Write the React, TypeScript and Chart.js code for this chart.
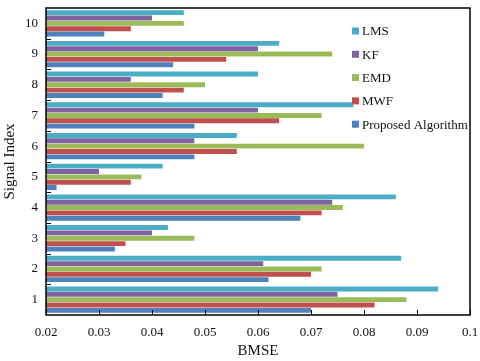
import React, { useEffect, useRef } from "react";
import { Chart, registerables } from "chart.js";

Chart.register(...registerables);

const categories = ["1", "2", "3", "4", "5", "6", "7", "8", "9", "10"];
const lmsValues = [0.094, 0.087, 0.043, 0.086, 0.042, 0.056, 0.078, 0.06, 0.064, 0.046];
const kfValues = [0.075, 0.061, 0.04, 0.074, 0.03, 0.048, 0.06, 0.036, 0.06, 0.04];
const emdValues = [0.088, 0.072, 0.048, 0.076, 0.038, 0.08, 0.072, 0.05, 0.074, 0.046];
const mwfValues = [0.082, 0.07, 0.035, 0.072, 0.036, 0.056, 0.064, 0.046, 0.054, 0.036];
const proposedValues = [0.07, 0.062, 0.033, 0.068, 0.022, 0.048, 0.048, 0.042, 0.044, 0.031];
const seriesNames = ["LMS", "KF", "EMD", "MWF", "Proposed Algorithm"];
const seriesColors = ["#4BACC6", "#8064A2", "#9BBB59", "#C0504D", "#4F81BD"];
const xMin = 0.02;
const xMax = 0.1;
const xStep = 0.01;

const FONT = "'Liberation Serif', 'Times New Roman', serif";

const framePlugin = {
  id: "frame",
  afterDatasetsDraw(chart: any) {
    const { ctx, chartArea } = chart;
    const { left, right, top, bottom } = chartArea;
    const xs = chart.scales.x;
    const ys = chart.scales.y;
    ctx.save();
    ctx.strokeStyle = "#000";
    ctx.lineWidth = 1;
    xs.ticks.forEach((_t: any, i: number) => {
      const px = Math.round(xs.getPixelForTick(i)) + 0.5;
      ctx.beginPath();
      ctx.moveTo(px, bottom);
      ctx.lineTo(px, bottom - 5);
      ctx.stroke();
    });
    for (let i = 0; i < categories.length - 1; i++) {
      const py = Math.round((ys.getPixelForValue(i) + ys.getPixelForValue(i + 1)) / 2) + 0.5;
      ctx.beginPath();
      ctx.moveTo(left, py);
      ctx.lineTo(left + 5, py);
      ctx.stroke();
    }
    ctx.lineWidth = 1.5;
    ctx.strokeRect(left, top, right - left, bottom - top);
    ctx.restore();
  },
};

const legendPlugin = {
  id: "customLegend",
  afterDraw(chart: any) {
    const { ctx } = chart;
    ctx.save();
    ctx.font = `13px ${FONT}`;
    ctx.textBaseline = "middle";
    ctx.textAlign = "left";
    chart.data.datasets.forEach((ds: any, i: number) => {
      const cy = 31 + i * 23.3;
      ctx.fillStyle = ds.backgroundColor;
      ctx.fillRect(352, cy - 3.5, 7, 7);
      ctx.fillStyle = "#111";
      ctx.fillText(ds.label, 362, cy + 1);
    });
    ctx.restore();
  },
};

export default function App() {
  const ref = useRef<HTMLCanvasElement | null>(null);
  useEffect(() => {
    if (!ref.current) return;
    const valueSets = [lmsValues, kfValues, emdValues, mwfValues, proposedValues];
    const chart = new Chart(ref.current, {
      type: "bar",
      data: {
        labels: categories,
        datasets: valueSets.map((vals, i) => ({
          label: seriesNames[i],
          data: vals,
          backgroundColor: seriesColors[i],
          borderWidth: 0,
          categoryPercentage: 0.87,
          barPercentage: 0.92,
        })),
      },
      options: {
        indexAxis: "y",
        responsive: false,
        animation: false,
        layout: { padding: { top: 8, right: 10, left: 0, bottom: 0 } },
        plugins: {
          legend: { display: false },
          tooltip: { enabled: false },
        },
        scales: {
          x: {
            type: "linear",
            min: xMin,
            max: xMax,
            grid: { display: false, drawTicks: false },
            border: { display: false },
            ticks: {
              stepSize: xStep,
              padding: 10,
              color: "#111",
              font: { family: FONT, size: 13 },
              callback: (v: any) => String(Number(Number(v).toFixed(2))),
            },
            title: {
              display: true,
              text: "BMSE",
              color: "#111",
              font: { family: FONT, size: 15 },
              padding: { top: 0, bottom: 1 },
            },
            afterFit: (s: any) => {
              s.height = 46;
              s.paddingLeft = 0;
              s.paddingRight = 0;
            },
          },
          y: {
            type: "category",
            reverse: true,
            grid: { display: false, drawTicks: false },
            border: { display: false },
            ticks: {
              padding: 8,
              color: "#111",
              font: { family: FONT, size: 13 },
            },
            title: {
              display: true,
              text: "Signal Index",
              color: "#111",
              font: { family: FONT, size: 15 },
              padding: { top: 1, bottom: 0 },
            },
            afterFit: (s: any) => {
              s.width = 46;
              s.paddingTop = 0;
              s.paddingBottom = 0;
            },
          },
        },
      },
      plugins: [framePlugin, legendPlugin],
    });
    return () => chart.destroy();
  }, []);
  return (
    <div style={{ position: "absolute", left: 0, top: 0, width: 480, height: 361, background: "#fff" }}>
      <canvas ref={ref} width={480} height={361} style={{ width: 480, height: 361, display: "block" }} />
    </div>
  );
}
